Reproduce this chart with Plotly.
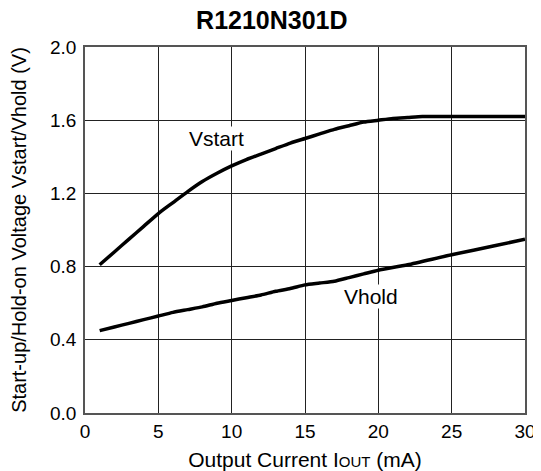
import plotly.graph_objects as go

x_start = [1, 2, 3, 4, 5, 6, 7, 8, 9, 10, 11, 12, 13, 14, 15, 16, 17, 18, 19, 20, 21, 22, 23, 25, 30]
v_start = [0.81, 0.88, 0.95, 1.02, 1.09, 1.15, 1.21, 1.265, 1.31, 1.35, 1.385, 1.415, 1.445, 1.475, 1.50, 1.525, 1.55, 1.57, 1.59, 1.60, 1.61, 1.615, 1.62, 1.62, 1.62]

x_hold = [1, 2, 3, 4, 5, 6, 7, 8, 9, 10, 11, 12, 13, 14, 15, 16, 17, 18, 19, 20, 22, 25, 28, 30]
v_hold = [0.45, 0.47, 0.49, 0.51, 0.53, 0.55, 0.565, 0.58, 0.60, 0.615, 0.63, 0.645, 0.665, 0.68, 0.70, 0.71, 0.72, 0.74, 0.76, 0.78, 0.81, 0.865, 0.915, 0.95]

x_ticks = [0, 5, 10, 15, 20, 25, 30]
y_ticks = [0.0, 0.4, 0.8, 1.2, 1.6, 2.0]
y_tick_labels = ["0.0", "0.4", "0.8", "1.2", "1.6", "2.0"]

FONT = "Liberation Sans, Arial, sans-serif"

fig = go.Figure()
fig.add_trace(go.Scatter(x=x_start, y=v_start, mode="lines",
                         line=dict(color="black", width=3.5, shape="spline", smoothing=0.6),
                         showlegend=False))
fig.add_trace(go.Scatter(x=x_hold, y=v_hold, mode="lines",
                         line=dict(color="black", width=3.5, shape="spline", smoothing=0.6),
                         showlegend=False))

fig.add_annotation(x=8.97, y=1.50, text="Vstart", showarrow=False,
                   font=dict(family=FONT, size=21, color="black"), bgcolor="white", borderpad=0)
fig.add_annotation(x=19.5, y=0.635, text="Vhold", showarrow=False,
                   font=dict(family=FONT, size=21, color="black"), bgcolor="white", borderpad=0)

# The page body adds an 8px margin, so the figure is 8px smaller and offsets compensate.
fig.update_layout(
    width=533, height=463,
    margin=dict(l=77, r=16, t=39, b=58, autoexpand=False),
    paper_bgcolor="white", plot_bgcolor="white",
    font=dict(family=FONT, size=19, color="black"),
    title=dict(text="<b>R1210N301D</b>", x=0.495, xanchor="center", y=0.974, yanchor="middle",
               font=dict(family=FONT, size=25, color="black")),
)
fig.update_xaxes(range=[0, 30], tickvals=x_ticks, ticks="", showgrid=True, gridcolor="#222222",
                 gridwidth=1, showline=True, linecolor="#555555", linewidth=1.5, mirror=True,
                 zeroline=False, tickfont=dict(size=19), automargin=False,
                 title=dict(text="Output Current I<span style='font-size:15px'>OUT</span> (mA)",
                            font=dict(size=21), standoff=16))
fig.update_yaxes(range=[0, 2.0], tickvals=y_ticks, ticktext=y_tick_labels, ticks="",
                 showgrid=True, gridcolor="#222222", gridwidth=1, showline=True,
                 linecolor="#555555", linewidth=1.5, mirror=True, zeroline=False,
                 tickfont=dict(size=19), automargin=False, ticklabelstandoff=3,
                 title=dict(text="Start-up/Hold-on Voltage Vstart/Vhold (V)",
                            font=dict(size=20), standoff=25))

fig.write_html("out.html")
